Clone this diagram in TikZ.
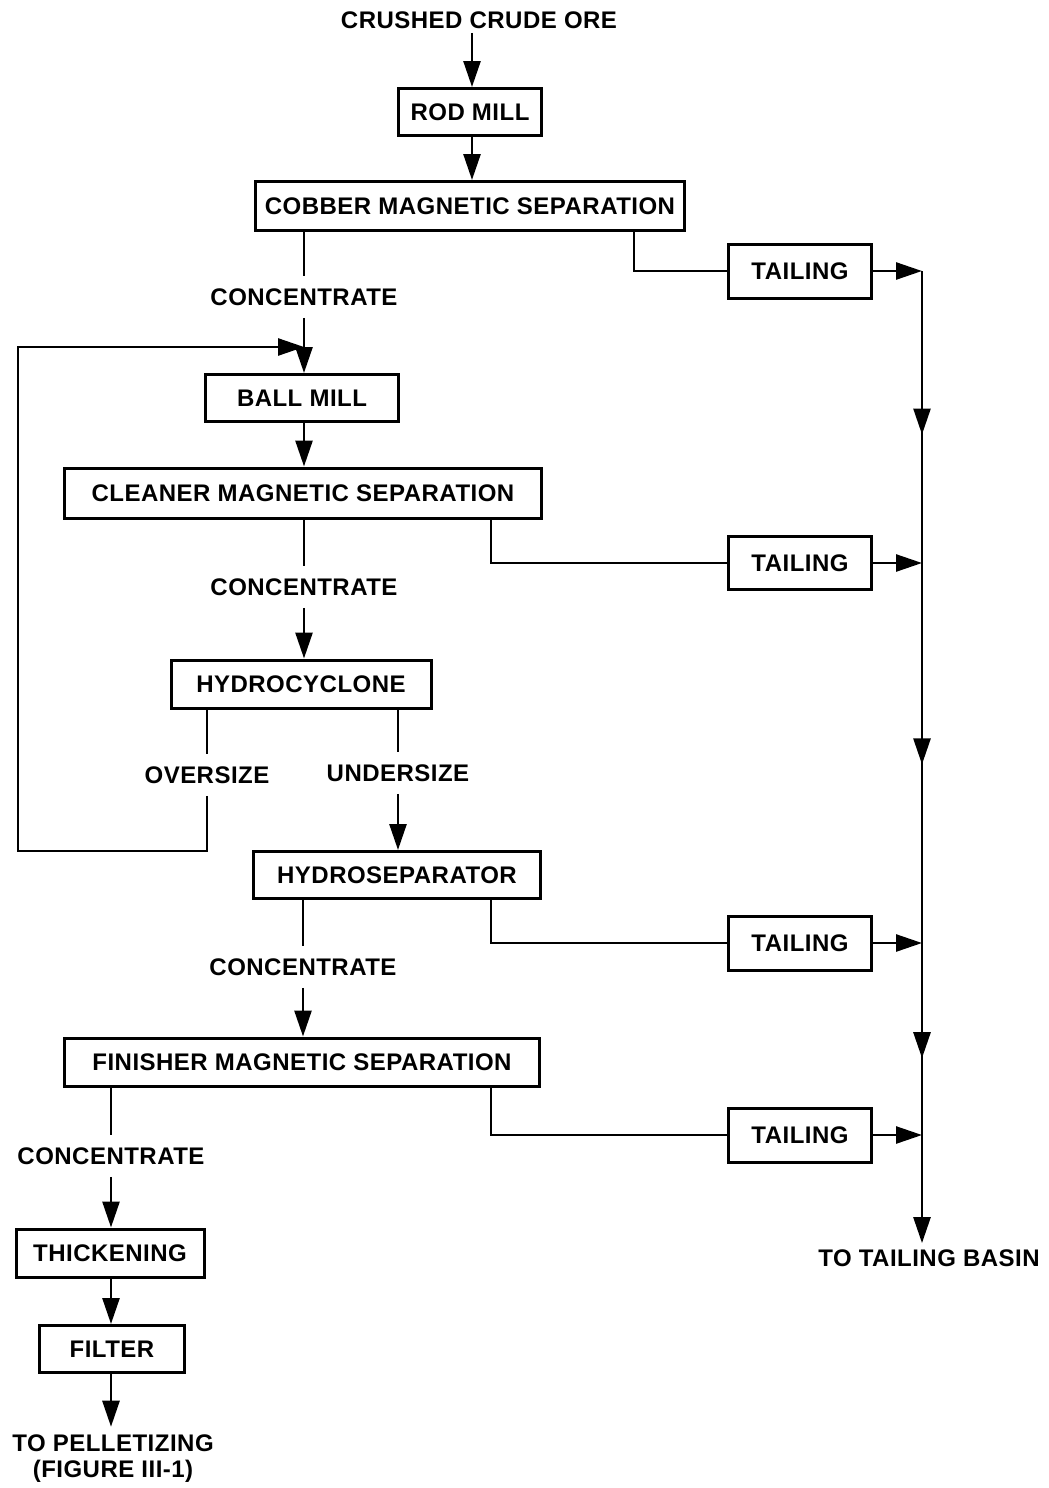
\documentclass[tikz,border=0pt]{standalone}
\usepackage{fontspec}
\setmainfont{Liberation Sans}[LetterSpace=2]
\usetikzlibrary{arrows.meta,decorations.markings}
\newcommand{\lab}{\fontsize{12}{13}\selectfont\bfseries}
\tikzset{
  box/.style={draw, line width=1.5pt, font=\lab, inner sep=0pt},
  lbl/.style={font=\lab, inner sep=6pt},
  flow/.style={line width=1.3pt},
  arr/.style={flow, -{Triangle[length=13pt,width=8.5pt]}},
  midarr/.style={flow, postaction={decorate},
    decoration={markings, mark=at position #1 with {\arrow{Triangle[length=13pt,width=8.5pt]}}}}
}
\begin{document}
\begin{tikzpicture}[x=0.5pt,y=-0.5pt]
\path[use as bounding box] (0,0) rectangle (1049,1488);

% helper coordinates
\coordinate (spine) at (922,0);
\coordinate (tx) at (491,0);
\coordinate (cx) at (634,0);
\coordinate (loopL) at (18,851);
\coordinate (jr) at (304,347);

% texts
\node[lbl, inner sep=2pt] (crude) at (479,20) {CRUSHED CRUDE ORE};
\node[lbl] (c1) at (304,297) {CONCENTRATE};
\node[lbl] (c2) at (304,587) {CONCENTRATE};
\node[lbl] (osz) at (207,775) {OVERSIZE};
\node[lbl] (usz) at (398,773) {UNDERSIZE};
\node[lbl] (c3) at (303,967) {CONCENTRATE};
\node[lbl] (c4) at (111,1156) {CONCENTRATE};
\node[lbl, inner sep=3pt] (basin) at (929,1258) {TO TAILING BASIN};
\node[lbl, inner sep=4pt, align=center] (pellet) at (113,1459) {TO PELLETIZING\\(FIGURE III-1)};

% boxes
\node[box, minimum width=71.5pt, minimum height=23.5pt] (rod) at (470,112) {ROD MILL};
\node[box, minimum width=214.5pt, minimum height=24.5pt] (cobber) at (470,206) {COBBER MAGNETIC SEPARATION};
\node[box, minimum width=71.5pt, minimum height=27pt] (t1) at (800,271) {TAILING};
\node[box, minimum width=96.5pt, minimum height=23.5pt] (ball) at (302,398) {BALL MILL};
\node[box, minimum width=238.5pt, minimum height=25pt] (cleaner) at (303,493) {CLEANER MAGNETIC SEPARATION};
\node[box, minimum width=71.5pt, minimum height=26.5pt] (t2) at (800,563) {TAILING};
\node[box, minimum width=130pt, minimum height=24pt] (hcyc) at (301,684) {HYDROCYCLONE};
\node[box, minimum width=143.5pt, minimum height=23.5pt] (hsep) at (397,875) {HYDROSEPARATOR};
\node[box, minimum width=71.5pt, minimum height=27pt] (t3) at (800,943) {TAILING};
\node[box, minimum width=237.5pt, minimum height=24pt] (fin) at (302,1062) {FINISHER MAGNETIC SEPARATION};
\node[box, minimum width=71.5pt, minimum height=27pt] (t4) at (800,1135) {TAILING};
\node[box, minimum width=94pt, minimum height=24pt] (thick) at (110,1253) {THICKENING};
\node[box, minimum width=72.5pt, minimum height=23.5pt] (filter) at (112,1349) {FILTER};

% main line
\draw[arr] (crude.south -| 472,0) -- (rod.north -| 472,0);
\draw[arr] (rod.south -| 472,0) -- (cobber.north -| 472,0);
\draw[flow] (cobber.south -| c1) -- (c1.north);
\draw[arr] (c1.south) -- (c1.south |- ball.north);
\draw[arr] (osz.south) |- (loopL) |- (jr);
\draw[arr] (ball.south -| c2) -- (cleaner.north -| c2);
\draw[flow] (cleaner.south -| c2) -- (c2.north);
\draw[arr] (c2.south) -- (c2.south |- hcyc.north);
\draw[flow] (hcyc.south -| osz) -- (osz.north);
\draw[flow] (hcyc.south -| usz) -- (usz.north);
\draw[arr] (usz.south) -- (usz.south |- hsep.north);
\draw[flow] (hsep.south -| c3) -- (c3.north);
\draw[arr] (c3.south) -- (c3.south |- fin.north);
\draw[flow] (fin.south -| c4) -- (c4.north);
\draw[arr] (c4.south) -- (c4.south |- thick.north);
\draw[arr] (thick.south -| c4) -- (filter.north -| c4);
\draw[arr] (filter.south -| c4) -- (pellet.north -| c4);

% tailings
\draw[flow] (cobber.south -| cx) |- (t1.west);
\draw[flow] (cleaner.south -| tx) |- (t2.west);
\draw[flow] (hsep.south -| tx) |- (t3.west);
\draw[flow] (fin.south -| tx) |- (t4.west);
\draw[arr] (t1.east) -- (t1.east -| spine);
\draw[arr] (t2.east) -- (t2.east -| spine);
\draw[arr] (t3.east) -- (t3.east -| spine);
\draw[arr] (t4.east) -- (t4.east -| spine);

% spine
\draw[midarr=0.56] (t1.east -| spine) -- (t2.east -| spine);
\draw[midarr=0.53] (t2.east -| spine) -- (t3.east -| spine);
\draw[midarr=0.6] (t3.east -| spine) -- (t4.east -| spine);
\draw[arr] (t4.east -| spine) -- (basin.north -| spine);
\end{tikzpicture}
\end{document}
